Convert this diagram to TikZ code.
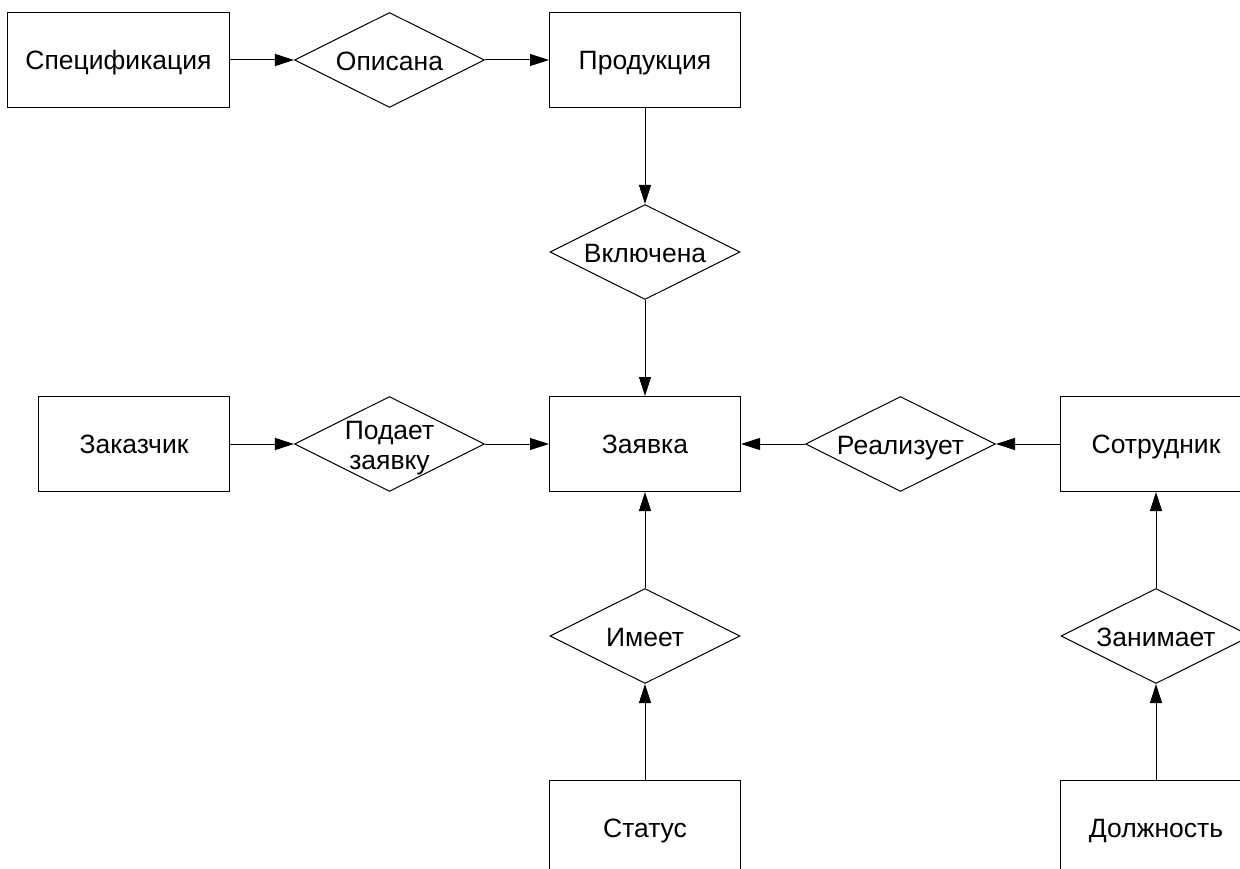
\documentclass[tikz,border=0pt]{standalone}
\usepackage{fontspec}
\setmainfont{Liberation Sans}
\usetikzlibrary{positioning,arrows.meta,shapes.geometric}

% text of a relation may stick out of its diamond
\newcommand{\reltext}[1]{\makebox[0pt]{\smash{\raisebox{-0.4em}{\begin{tabular}{@{}c@{}}#1\end{tabular}}}}}

\begin{document}
\begin{tikzpicture}[
  x=1pt,y=-1pt,
  font=\fontsize{26.5}{30.5}\selectfont,
  node distance=96pt and 64pt,
  entity/.style={rectangle,draw,line width=1pt,minimum width=191pt,minimum height=95pt,
                 inner xsep=18pt,text height=19pt,text depth=0pt},
  relation/.style={diamond,draw,line width=1pt,minimum width=190pt,minimum height=95pt,inner sep=0pt},
  arr/.style={-{Triangle[length=19pt,width=12pt]},line width=1pt},
]
\useasboundingbox (0,0) rectangle (1240,869);
\clip (0,0) rectangle (1240,869);

\node[entity] (zayavka) at (645,444) {Заявка};
\node[relation,above=of zayavka] (vkl) {\reltext{Включена}};
\node[entity,above=of vkl] (prod) {Продукция};
\node[relation,left=of prod] (opis) {\reltext{Описана}};
\node[entity,left=of opis] (spec) {Спецификация};

\node[relation,left=of zayavka] (podaet) {\reltext{Подает\\заявку}};
\node[entity,left=of podaet] (zakaz) {Заказчик};
\node[relation,right=of zayavka] (real) {\reltext{Реализует}};
\node[entity,right=of real] (sotr) {Сотрудник};

\node[relation,below=of zayavka] (imeet) {\reltext{Имеет}};
\node[entity,below=of imeet] (status) {Статус};
\node[relation,below=of sotr] (zanim) {\reltext{Занимает}};
\node[entity,below=of zanim] (dolzh) {Должность};

\draw[arr] (spec) -- (opis);
\draw[arr] (opis) -- (prod);
\draw[arr] (prod) -- (vkl);
\draw[arr] (vkl) -- (zayavka);
\draw[arr] (zakaz) -- (podaet);
\draw[arr] (podaet) -- (zayavka);
\draw[arr] (sotr) -- (real);
\draw[arr] (real) -- (zayavka);
\draw[arr] (status) -- (imeet);
\draw[arr] (imeet) -- (zayavka);
\draw[arr] (dolzh) -- (zanim);
\draw[arr] (zanim) -- (sotr);
\end{tikzpicture}
\end{document}
